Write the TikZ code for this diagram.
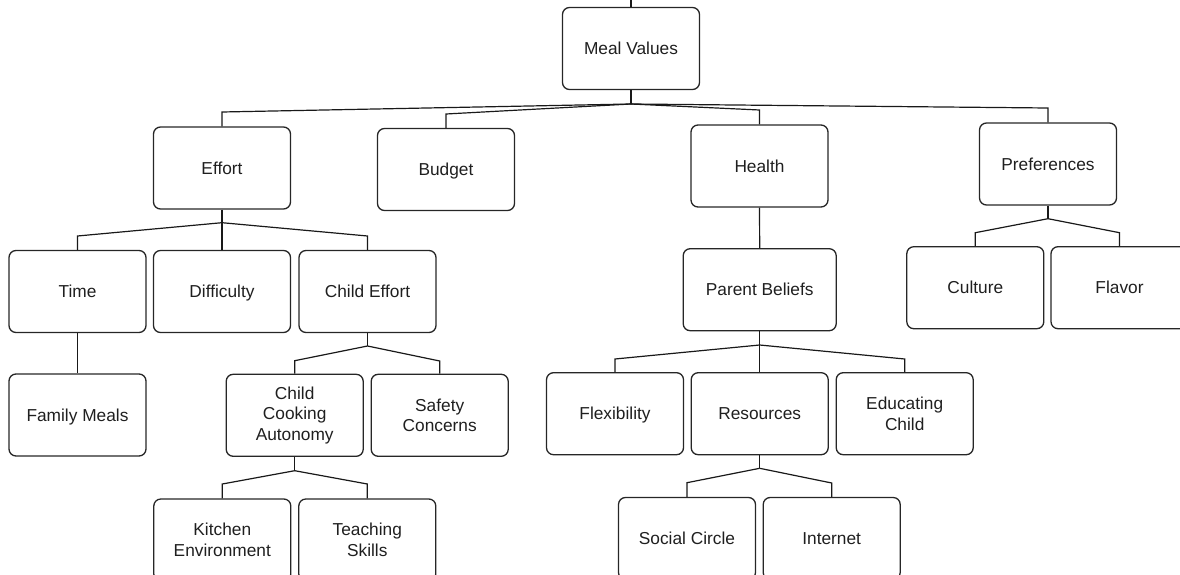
\documentclass[tikz,border=0pt]{standalone}
\usepackage{fontspec}
\setmainfont{Liberation Sans}
\begin{document}
\begin{tikzpicture}[x=1pt,y=-1pt,
  box/.style={draw=black!85, rounded corners=7pt, line width=1.3pt,
    minimum width=137pt, minimum height=82pt, inner sep=2pt, align=center,
    text=black!88, font=\fontsize{17.3}{20.5}\selectfont},
  one/.style={box, text height=12.4pt, text depth=0pt},
  wide/.style={one, minimum width=153pt},
  link/.style={draw=black!90, line width=1.2pt}]
\useasboundingbox (0,0) rectangle (1180,575);
\clip (0,0) rectangle (1180,575);

% boxes
\node[one] (mv) at (631,48.5) {Meal Values};
\node[one] (effort) at (222,168) {Effort};
\node[one] (budget) at (446,169.5) {Budget};
\node[one] (health) at (759.5,166) {Health};
\node[one] (pref) at (1048,164) {Preferences};

\node[one] (time) at (77.5,291.5) {Time};
\node[one] (diff) at (222,291.5) {Difficulty};
\node[one] (ceffort) at (367.5,291.5) {Child Effort};
\node[one] (fam) at (77.5,415) {Family Meals};
\node[box] (cca) at (294.7,415.3) {Child\\Cooking\\Autonomy};
\node[box] (safety) at (439.7,415.3) {Safety\\Concerns};
\node[box] (kitchen) at (222.3,540) {Kitchen\\Environment};
\node[box] (teach) at (367.3,540) {Teaching\\Skills};

\node[wide] (pb) at (759.7,289.7) {Parent Beliefs};
\node[one] (flex) at (615,413.7) {Flexibility};
\node[one] (res) at (759.7,413.7) {Resources};
\node[box] (edu) at (904.7,413.7) {Educating\\Child};
\node[one] (social) at (687,538.5) {Social Circle};
\node[one] (internet) at (831.7,538.5) {Internet};

\node[one] (culture) at (975.3,287.7) {Culture};
\node[one] (flavor) at (1119.5,287.7) {Flavor};

% branching points below each parent
\coordinate (mvj) at (631,104);
\coordinate (effj) at (222,222.7);
\coordinate (cej) at (367.5,346);
\coordinate (ccaj) at (294.7,470.7);
\coordinate (pbj) at (759.7,345);
\coordinate (resj) at (759.7,468.3);
\coordinate (prefj) at (1048,218.7);
\coordinate (top) at (631,-10);

% connectors
\draw[link] (mv.north) -- (top);
\draw[link] (mv.south) -- (mvj);
\draw[link] (mvj) -- (effort.north |- 0,112) -- (effort.north);
\draw[link] (mvj) -- (budget.north |- 0,114) -- (budget.north);
\draw[link] (mvj) -- (health.north |- 0,110) -- (health.north);
\draw[link] (mvj) -- (pref.north |- 0,108) -- (pref.north);

\draw[link] (effort.south) -- (effj);
\draw[link] (effj) -- (time.north |- 0,236) -- (time.north);
\draw[link] (effj) -- (diff.north);
\draw[link] (effj) -- (ceffort.north |- 0,236) -- (ceffort.north);
\draw[link] (time.south) -- (fam.north);

\draw[link] (ceffort.south) -- (cej);
\draw[link] (cej) -- (cca.north |- 0,360.7) -- (cca.north);
\draw[link] (cej) -- (safety.north |- 0,361) -- (safety.north);

\draw[link] (cca.south) -- (ccaj);
\draw[link] (ccaj) -- (kitchen.north |- 0,484) -- (kitchen.north);
\draw[link] (ccaj) -- (teach.north |- 0,484) -- (teach.north);

\draw[link] (health.south) -- (pb.north);
\draw[link] (pb.south) -- (pbj);
\draw[link] (pbj) -- (flex.north |- 0,359) -- (flex.north);
\draw[link] (pbj) -- (res.north);
\draw[link] (pbj) -- (edu.north |- 0,359) -- (edu.north);

\draw[link] (res.south) -- (resj);
\draw[link] (resj) -- (social.north |- 0,482.7) -- (social.north);
\draw[link] (resj) -- (internet.north |- 0,483) -- (internet.north);

\draw[link] (pref.south) -- (prefj);
\draw[link] (prefj) -- (culture.north |- 0,232.7) -- (culture.north);
\draw[link] (prefj) -- (flavor.north |- 0,232.7) -- (flavor.north);
\end{tikzpicture}
\end{document}
